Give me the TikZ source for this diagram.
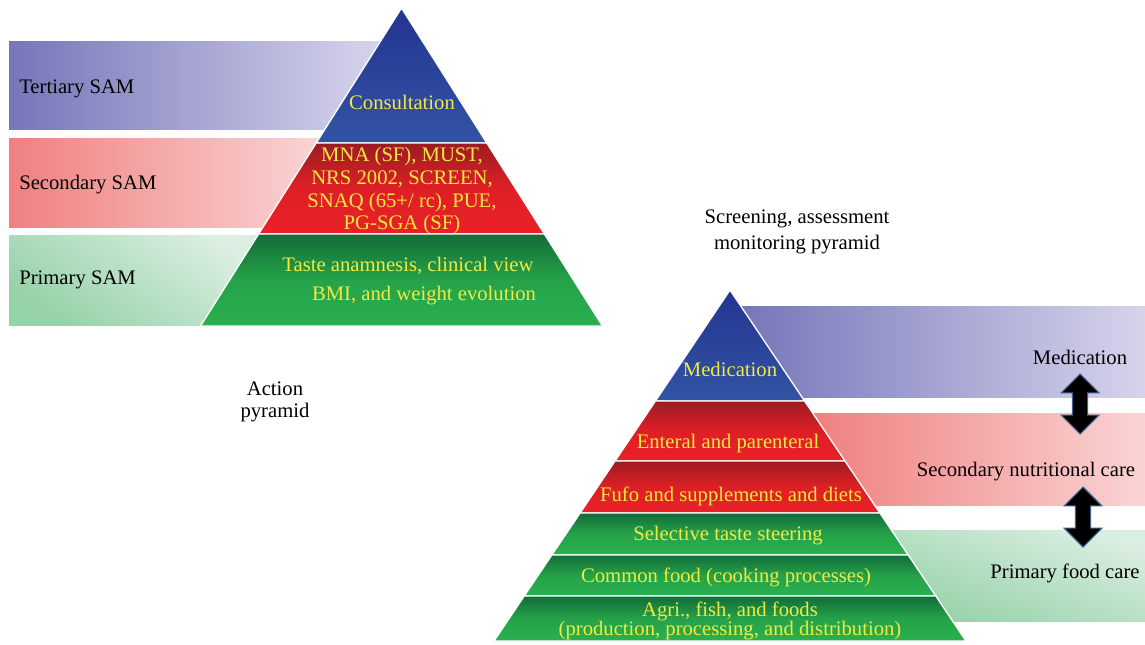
\documentclass[tikz,border=0pt]{standalone}
\usepackage{fontspec}
\setmainfont{Liberation Serif}
\usetikzlibrary{shapes.arrows}

\definecolor{bandblueL}{RGB}{118,118,186}
\definecolor{bandblueR}{RGB}{214,212,235}
\definecolor{bandredL}{RGB}{240,128,128}
\definecolor{bandredR}{RGB}{250,212,212}
\definecolor{bandgreenD}{RGB}{150,210,168}
\definecolor{bandgreenL}{RGB}{218,238,225}
\definecolor{pyrblueT}{RGB}{36,52,145}
\definecolor{pyrblueB}{RGB}{50,84,164}
\definecolor{pyrredT}{RGB}{156,28,34}
\definecolor{pyrredB}{RGB}{234,32,39}
\definecolor{pyrgreenT}{RGB}{18,108,56}
\definecolor{pyrgreenB}{RGB}{42,176,78}
\definecolor{lbltext}{RGB}{240,234,66}
\definecolor{arrowedge}{RGB}{62,96,138}

\tikzset{
  layer/.style={draw=white, line width=1pt},
  bluelayer/.style={layer, top color=pyrblueT, bottom color=pyrblueB},
  redlayer/.style={layer, top color=pyrredT, bottom color=pyrredB, middle color=pyrredB!85!pyrredT},
  greenlayer/.style={layer, top color=pyrgreenT, bottom color=pyrgreenB, middle color=pyrgreenB!80!pyrgreenT},
  inlbl/.style={text=lbltext, align=center, inner sep=0pt, anchor=base},
  sidelbl/.style={text=black, align=center, inner sep=0pt, anchor=base},
  updown/.style={double arrow, draw=arrowedge, fill=black, line width=0.8pt, inner xsep=0pt, inner ysep=5.25pt,
    minimum width=27.5pt, minimum height=45pt, double arrow head extend=8.5pt, rotate=90}
}

\begin{document}
\begin{tikzpicture}[x=0.75pt, y=-0.75pt, font=\fontsize{15.5}{16.5}\selectfont]
   \useasboundingbox (0,0) rectangle (1145,644);

   % action pyramid, bands behind
   \shade[left color=bandblueL, right color=bandblueR] (9,41) rectangle (380,129);
   \shade[left color=bandredL, right color=bandredR] (9,138) rectangle (319,227);
   \shade[top color=bandgreenL, bottom color=bandgreenD, shading angle=-35] (9,235) rectangle (258,325);

   % action pyramid
   \path[bluelayer] (401.5,8) -- (316.2,143) -- (486.8,143) -- cycle;
   \path[redlayer] (316.2,143) -- (258.6,234) -- (544.4,234) -- (486.8,143) -- cycle;
   \path[greenlayer] (258.6,234) -- (200.5,326) -- (602.5,326) -- (544.4,234) -- cycle;

   \node[sidelbl, anchor=base west] (tertiary) at (19,93) {Tertiary SAM};
   \node[sidelbl, anchor=base west] (secondary) at (19,189) {Secondary SAM};
   \node[sidelbl, anchor=base west] (primary) at (19,284) {Primary SAM};
   \node[inlbl] (consult) at (402,109) {Consultation};
   \node[inlbl, anchor=center, font=\fontsize{15.5}{17}\selectfont] (tools) at (402,191) {MNA (SF), MUST,\\NRS 2002, SCREEN,\\SNAQ (65+/ rc), PUE,\\PG-SGA (SF)};
   \node[inlbl] (taste) at (408,271) {Taste anamnesis, clinical view};
   \node[inlbl] (bmi) at (424,300) {BMI, and weight evolution};
   \node[sidelbl, anchor=center] (action) at (275,401.5) {Action\\pyramid};

   % screening pyramid, bands behind
   \shade[left color=bandblueL, right color=bandblueR] (741,306) rectangle (1145,397);
   \shade[left color=bandredL, right color=bandredR] (813,413) rectangle (1145,505);
   \shade[top color=bandgreenL, bottom color=bandgreenD, shading angle=-20] (891,530) rectangle (1145,621);

   % screening pyramid
   \path[bluelayer] (730,290) -- (655.4,401) -- (804.6,401) -- cycle;
   \path[redlayer] (655.4,401) -- (615.0,461) -- (845.0,461) -- (804.6,401) -- cycle;
   \path[redlayer] (615.0,461) -- (580.1,513) -- (879.9,513) -- (845.0,461) -- cycle;
   \path[greenlayer] (580.1,513) -- (551.8,555) -- (908.2,555) -- (879.9,513) -- cycle;
   \path[greenlayer] (551.8,555) -- (524.2,596) -- (935.8,596) -- (908.2,555) -- cycle;
   \path[greenlayer] (524.2,596) -- (494,641) -- (966,641) -- (935.8,596) -- cycle;

   \node[sidelbl, anchor=center] (screening) at (797,231.5) {Screening, assessment\\[3pt]monitoring pyramid};
   \node[inlbl] (medin) at (730,376) {Medication};
   \node[inlbl] (enteral) at (728,448) {Enteral and parenteral};
   \node[inlbl] (fufo) at (731,501) {Fufo and supplements and diets};
   \node[inlbl] (selective) at (728,540) {Selective taste steering};
   \node[inlbl] (common) at (726,582) {Common food (cooking processes)};
   \node[inlbl, anchor=center, font=\fontsize{15.5}{14.5}\selectfont] (agri) at (730,621) {Agri., fish, and foods\\(production, processing, and distribution)};

   \node[sidelbl] (medcare) at (1080,364) {Medication};
   \node[sidelbl] (seccare) at (1026,476) {Secondary nutritional care};
   \node[sidelbl] (primcare) at (1065,578) {Primary food care};
   \node[updown] (medsec) at (1080,404) {};
   \node[updown] (secprim) at (1083,517) {};

\end{tikzpicture}
\end{document}
